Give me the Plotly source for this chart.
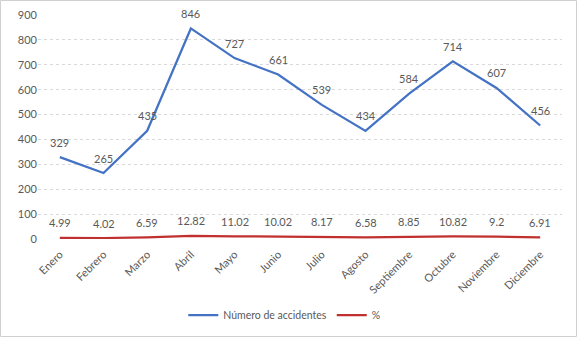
import plotly.graph_objects as go

meses = ["Enero", "Febrero", "Marzo", "Abril", "Mayo", "Junio", "Julio",
         "Agosto", "Septiembre", "Octubre", "Noviembre", "Diciembre"]
accidentes = [329, 265, 435, 846, 727, 661, 539, 434, 584, 714, 607, 456]
porcentaje = [4.99, 4.02, 6.59, 12.82, 11.02, 10.02, 8.17, 6.58, 8.85, 10.82, 9.2, 6.91]
y_ticks = [0, 100, 200, 300, 400, 500, 600, 700, 800, 900]

W, H = 577, 337
ML, MR, MT, MB = 38, 15, 15, 98
PW, PH = W - ML - MR, H - MT - MB

FAM = "Lato, 'Open Sans', sans-serif"
font = dict(family=FAM, size=11, color="#595959")

fig = go.Figure()
fig.add_trace(go.Scatter(
    x=meses, y=accidentes, name="Número de accidentes",
    mode="lines", line=dict(color="#4472C4", width=2.25),
))
fig.add_trace(go.Scatter(
    x=meses, y=porcentaje, name="%",
    mode="lines", line=dict(color="#C0302E", width=2.25),
))

# value labels sitting just above each point
for serie, fmt in ((accidentes, "{:d}"), (porcentaje, "{:g}")):
    for m, v in zip(meses, serie):
        fig.add_annotation(x=m, y=v, text=fmt.format(v), showarrow=False,
                           yshift=15, font=font, xanchor="center", yanchor="middle")

# outer frame of the chart area
def px_x(p):
    return (p - ML) / PW

def px_y(p):
    return (H - MB - p) / PH

fig.add_shape(type="rect", xref="paper", yref="paper",
              x0=px_x(0.5), x1=px_x(W - 0.5), y0=px_y(H - 0.5), y1=px_y(0.5),
              line=dict(color="#d0d0d0", width=1), layer="below")

fig.update_layout(
    width=W, height=H,
    margin=dict(l=ML, r=MR, t=MT, b=MB, autoexpand=False),
    paper_bgcolor="white", plot_bgcolor="white",
    font=font,
    showlegend=True,
    legend=dict(orientation="h", x=0.47, xanchor="center", y=px_y(315), yanchor="middle",
                font=dict(family=FAM, size=10.5, color="#595959"),
                itemwidth=30),
    xaxis=dict(range=[-0.5, 11.5], tickangle=-45, showgrid=False, zeroline=False,
               showline=False, ticks="", tickfont=font, automargin=False,
               ticklabelstandoff=6),
    yaxis=dict(range=[0, 900], tickvals=y_ticks, showgrid=True,
               gridcolor="#d9d9d9", griddash="dot", gridwidth=1,
               zeroline=False, showline=False, ticks="", tickfont=font,
               automargin=False),
)

fig.write_html("out.html")
